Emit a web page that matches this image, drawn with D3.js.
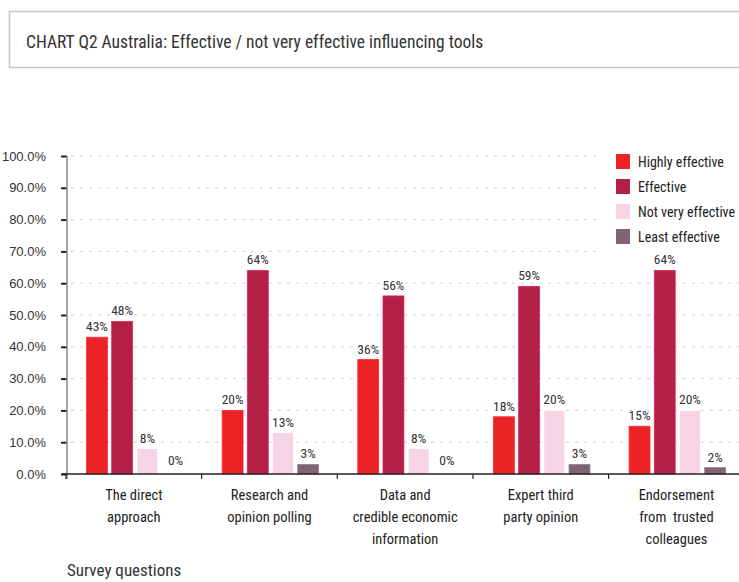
<!DOCTYPE html>
<html>
<head>
<meta charset="utf-8">
<script src="https://cdn.jsdelivr.net/npm/d3@7"></script>
<style>
  body { margin: 0; background: #fff; }
  svg { display: block; font-family: "Roboto Condensed", "DejaVu Sans Condensed", sans-serif; }
</style>
</head>
<body>
<div id="chart"></div>
<script>
var categories = [
    ["The direct", "approach"],
    ["Research and", "opinion polling"],
    ["Data and", "credible economic", "information"],
    ["Expert third", "party opinion"],
    ["Endorsement", "from  trusted", "colleagues"]
];
var seriesNames = ["Highly effective", "Effective", "Not very effective", "Least effective"];
var highlyEffective = [43, 20, 36, 18, 15];
var effective = [48, 64, 56, 59, 64];
var notVeryEffective = [8, 13, 8, 20, 20];
var leastEffective = [0, 3, 0, 3, 2];
var yTicks = [0, 10, 20, 30, 40, 50, 60, 70, 80, 90, 100];
var colors = ["#ed2224", "#b31f45", "#f6d4e4", "#7f6474"];

var seriesValues = [highlyEffective, effective, notVeryEffective, leastEffective];
var width = 739, height = 582;

var svg = d3.select("#chart").append("svg")
    .attr("width", width)
    .attr("height", height);

// title box
svg.append("rect")
    .attr("x", 9.5).attr("y", 11.5)
    .attr("width", 740).attr("height", 56)
    .attr("fill", "#fff")
    .attr("stroke", "#c4c4c4")
    .attr("stroke-width", 1.5);

svg.append("text")
    .attr("x", 26).attr("y", 48)
    .attr("font-size", 17.5)
    .attr("fill", "#333")
    .text("CHART Q2 Australia: Effective / not very effective influencing tools");

var catIdx = d3.range(categories.length);

var x0 = d3.scaleBand()
    .domain(catIdx)
    .range([66, 744.25]);

var x1 = d3.scaleBand()
    .domain(d3.range(seriesNames.length))
    .range([20.5, 117])
    .paddingInner(0.17);

var y = d3.scaleLinear()
    .domain([0, 100])
    .range([474, 156]);

// gridlines
svg.append("g")
    .selectAll("line")
    .data(yTicks.filter(function (d) { return d > 0; }))
    .enter().append("line")
    .attr("x1", 71).attr("x2", width)
    .attr("y1", function (d) { return y(d); })
    .attr("y2", function (d) { return y(d); })
    .attr("stroke", "#c9d6cf")
    .attr("stroke-width", 1)
    .attr("stroke-dasharray", "3,6");

// y axis
var yAxis = svg.append("g")
    .attr("transform", "translate(67,0)")
    .call(d3.axisLeft(y)
        .tickValues(yTicks)
        .tickSize(6)
        .tickPadding(15)
        .tickFormat(function (d) { return d.toFixed(1) + "%"; }));

yAxis.select(".domain").remove();
yAxis.selectAll(".tick line").attr("stroke", "#222").attr("stroke-width", 2);
yAxis.selectAll(".tick text")
    .attr("font-family", null)
    .attr("font-size", 13)
    .attr("fill", "#333");

svg.append("line")
    .attr("x1", 67).attr("x2", 67)
    .attr("y1", 156).attr("y2", 479)
    .attr("stroke", "#888")
    .attr("stroke-width", 1.5);

// bars
var groups = svg.append("g")
    .selectAll("g")
    .data(catIdx)
    .enter().append("g")
    .attr("transform", function (i) { return "translate(" + x0(i) + ",0)"; });

var barData = function (i) {
    return seriesValues.map(function (vals, s) { return { s: s, v: vals[i] }; });
};

groups.selectAll("rect")
    .data(barData)
    .enter().append("rect")
    .attr("x", function (d) { return x1(d.s); })
    .attr("width", x1.bandwidth())
    .attr("y", function (d) { return y(d.v); })
    .attr("height", function (d) { return y(0) - y(d.v); })
    .attr("fill", function (d) { return colors[d.s]; })
    .attr("stroke", function (d) { return d.v > 0 ? d3.color(colors[d.s]).brighter(0.6) : "none"; })
    .attr("stroke-width", 0.8);

groups.selectAll("text.val")
    .data(barData)
    .enter().append("text")
    .attr("class", "val")
    .attr("x", function (d) { return x1(d.s) + x1.bandwidth() / 2 + (d.v === 0 ? 3 : 0); })
    .attr("y", function (d) { return y(d.v) - (d.v === 0 ? 9 : 6); })
    .attr("text-anchor", "middle")
    .attr("font-size", 13.5)
    .attr("fill", "#333")
    .text(function (d) { return d.v + "%"; });

// x axis
svg.append("line")
    .attr("x1", 62).attr("x2", width)
    .attr("y1", 474).attr("y2", 474)
    .attr("stroke", "#222")
    .attr("stroke-width", 1.5);

svg.append("g")
    .selectAll("line")
    .data(catIdx.concat([categories.length]))
    .enter().append("line")
    .attr("x1", function (i) { return i < categories.length ? x0(i) : x0.range()[1]; })
    .attr("x2", function (i) { return i < categories.length ? x0(i) : x0.range()[1]; })
    .attr("y1", 474).attr("y2", 479)
    .attr("stroke", "#222")
    .attr("stroke-width", 1.2);

var catLabels = svg.append("g")
    .selectAll("text")
    .data(catIdx)
    .enter().append("text")
    .attr("text-anchor", "middle")
    .attr("font-size", 14.5)
    .attr("fill", "#222")
    .attr("xml:space", "preserve")
    .attr("x", function (i) { return x0(i) + x0.bandwidth() / 2; });

catLabels.selectAll("tspan")
    .data(function (i) { return categories[i]; })
    .enter().append("tspan")
    .attr("x", function () { return d3.select(this.parentNode).attr("x"); })
    .attr("y", function (d, k) { return 500 + k * 22; })
    .text(function (d) { return d; });

svg.append("text")
    .attr("x", 67).attr("y", 576)
    .attr("font-size", 17)
    .attr("fill", "#333")
    .text("Survey questions");

// legend
var legend = svg.append("g");
legend.append("rect")
    .attr("x", 598).attr("y", 145)
    .attr("width", 141).attr("height", 108)
    .attr("fill", "#fff");

var items = legend.selectAll("g.item")
    .data(seriesNames)
    .enter().append("g")
    .attr("class", "item")
    .attr("transform", function (d, i) { return "translate(616," + (154 + i * 25) + ")"; });

items.append("rect")
    .attr("width", 14).attr("height", 15)
    .attr("fill", function (d, i) { return colors[i]; });

items.append("text")
    .attr("x", 22).attr("y", 12.5)
    .attr("font-size", 14)
    .attr("fill", "#222")
    .text(function (d) { return d; });
</script>
</body>
</html>
